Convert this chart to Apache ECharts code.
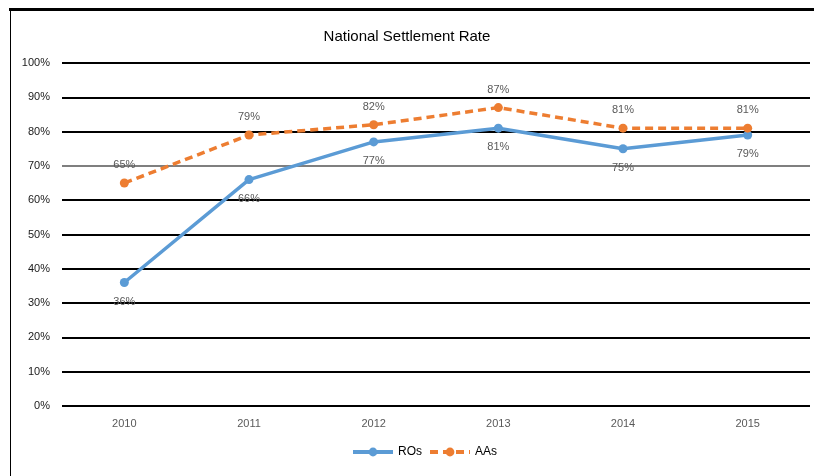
<!DOCTYPE html>
<html>
<head>
<meta charset="utf-8">
<script src="https://cdn.jsdelivr.net/npm/echarts@6/dist/echarts.min.js"></script>
<style>
html,body{margin:0;padding:0;background:#fff;}
#chart{width:814px;height:476px;}
</style>
</head>
<body>
<div id="chart"></div>
<script>
const titleText = "National Settlement Rate";
const years = ["2010", "2011", "2012", "2013", "2014", "2015"];
const seriesNames = ["ROs", "AAs"];
const rosValues = [36, 66, 77, 81, 75, 79];
const aasValues = [65, 79, 82, 87, 81, 81];
const yTicks = [0, 10, 20, 30, 40, 50, 60, 70, 80, 90, 100];

const FONT = '"Liberation Sans Narrow", "Liberation Sans", "Open Sans", sans-serif';
const chart = echarts.init(document.getElementById('chart'), null, {renderer: 'canvas'});

const gridColors = yTicks.map(v => v === 70 ? '#7f7f7f' : '#000000');

chart.setOption({
  backgroundColor: '#ffffff',
  animation: false,
  textStyle: {fontFamily: FONT},
  title: {
    text: titleText,
    left: 'center',
    top: 24,
    textStyle: {fontFamily: FONT, fontSize: 15, fontWeight: 'normal', color: '#000000'}
  },
  graphic: [
    {type: 'rect', shape: {x: 9, y: 8, width: 814, height: 3}, style: {fill: '#000'}},
    {type: 'rect', shape: {x: 10, y: 8, width: 1, height: 476}, style: {fill: '#000'}}
  ],
  legend: {
    bottom: 13,
    left: 346,
    itemWidth: 40,
    itemHeight: 11,
    itemGap: 6,
    data: seriesNames,
    lineStyle: {width: 4},
    textStyle: {fontFamily: FONT, fontSize: 12, color: '#000'}
  },
  grid: {left: 62, right: 4, top: 63, bottom: 70, containLabel: false},
  xAxis: {
    type: 'category',
    data: years,
    boundaryGap: true,
    axisLine: {show: false},
    axisTick: {show: false},
    axisLabel: {color: '#595959', fontSize: 11, margin: 12, fontFamily: FONT}
  },
  yAxis: {
    type: 'value',
    min: 0,
    max: 100,
    interval: 10,
    axisLine: {show: false},
    axisTick: {show: false},
    axisLabel: {formatter: v => v + '%', color: '#1a1a1a', fontSize: 11, margin: 12, fontFamily: FONT},
    splitLine: {show: true, lineStyle: {color: gridColors, width: 2}}
  },
  series: [
    {
      name: seriesNames[0],
      type: 'line',
      data: rosValues,
      symbol: 'circle',
      symbolSize: 9,
      lineStyle: {color: '#5B9BD5', width: 3.5},
      itemStyle: {color: '#5B9BD5'},
      label: {show: true, position: 'bottom', distance: 9, formatter: p => p.value + '%', color: '#595959', fontSize: 11, fontFamily: FONT},
      z: 3
    },
    {
      name: seriesNames[1],
      type: 'line',
      data: aasValues,
      symbol: 'circle',
      symbolSize: 9,
      lineStyle: {color: '#ED7D31', width: 3.5, type: [8, 5]},
      itemStyle: {color: '#ED7D31'},
      label: {show: true, position: 'top', distance: 8, formatter: p => p.value + '%', color: '#595959', fontSize: 11, fontFamily: FONT},
      z: 4
    }
  ]
});
</script>
</body>
</html>
